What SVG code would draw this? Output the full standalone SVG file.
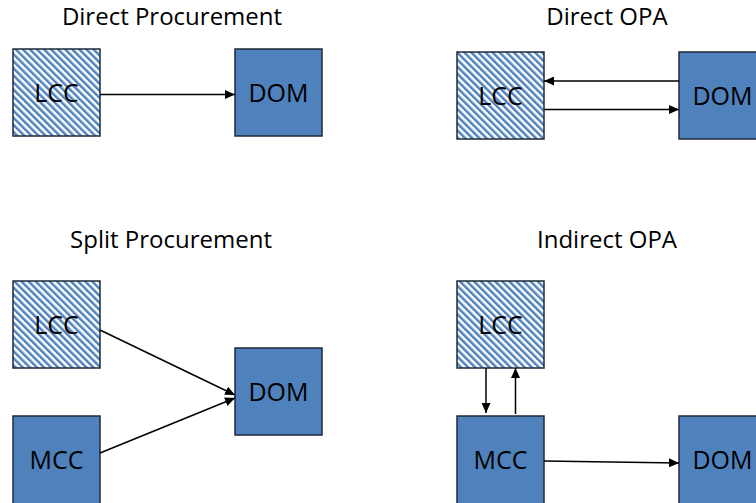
<svg xmlns="http://www.w3.org/2000/svg" width="756" height="503" viewBox="0 0 756 503">
  <defs>
    <pattern id="hatch" patternUnits="userSpaceOnUse" width="5" height="5" patternTransform="rotate(-45)">
      <rect x="0" y="0" width="5" height="5" fill="#ffffff"/>
      <rect x="0" y="0" width="2.5" height="5" fill="#4F81BD"/>
    </pattern>
    <marker id="arr" markerUnits="userSpaceOnUse" markerWidth="11" markerHeight="9" refX="10" refY="4.5" orient="auto">
      <path d="M0,0 L10,4.5 L0,9 z" fill="#000"/>
    </marker>
    <style>
      .title { font-family: "Open Sans", "Liberation Sans", sans-serif; font-size: 24px; fill: #000; text-anchor: middle; }
      .lbl { font-family: "Open Sans", "Liberation Sans", sans-serif; font-size: 25px; fill: #000; text-anchor: middle; }
      .solid { fill: #4F81BD; stroke: #1E2A38; stroke-width: 1.5; }
      .hatched { fill: url(#hatch); stroke: #1E2A38; stroke-width: 1.5; }
      .conn { stroke: #000; stroke-width: 1.5; fill: none; marker-end: url(#arr); }
    </style>
  </defs>
  <rect width="756" height="503" fill="#ffffff"/>

  <text class="title" x="172" y="25">Direct Procurement</text>
  <text class="title" x="607" y="25">Direct OPA</text>
  <text class="title" x="171" y="248">Split Procurement</text>
  <text class="title" x="607" y="248">Indirect OPA</text>

  <!-- Panel 1 -->
  <g id="p1-lcc"><rect class="hatched" x="13" y="49" width="87" height="87"/><text class="lbl" x="56.5" y="102">LCC</text></g>
  <g id="p1-dom"><rect class="solid" x="235" y="49" width="87" height="87"/><text class="lbl" x="278.5" y="102">DOM</text></g>

  <!-- Panel 2 -->
  <g id="p2-lcc"><rect class="hatched" x="457" y="52" width="87" height="87"/><text class="lbl" x="500.5" y="105">LCC</text></g>
  <g id="p2-dom"><rect class="solid" x="679" y="52" width="87" height="87"/><text class="lbl" x="722.5" y="105">DOM</text></g>

  <!-- Panel 3 -->
  <g id="p3-lcc"><rect class="hatched" x="13" y="281" width="87" height="87"/><text class="lbl" x="56.5" y="334">LCC</text></g>
  <g id="p3-mcc"><rect class="solid" x="13" y="416" width="87" height="92"/><text class="lbl" x="56.5" y="469">MCC</text></g>
  <g id="p3-dom"><rect class="solid" x="235" y="348" width="87" height="87"/><text class="lbl" x="278.5" y="401">DOM</text></g>

  <!-- Panel 4 -->
  <g id="p4-lcc"><rect class="hatched" x="457" y="281" width="87" height="87"/><text class="lbl" x="500.5" y="334">LCC</text></g>
  <g id="p4-mcc"><rect class="solid" x="457" y="416" width="87" height="92"/><text class="lbl" x="500.5" y="469">MCC</text></g>
  <g id="p4-dom"><rect class="solid" x="679" y="416" width="87" height="92"/><text class="lbl" x="722.5" y="469">DOM</text></g>

  <g id="connectors">
    <line class="conn" x1="100" y1="94.5" x2="235" y2="94.5"/>
    <line class="conn" x1="679" y1="81" x2="544" y2="81"/>
    <line class="conn" x1="544" y1="109.5" x2="679" y2="109.5"/>
    <line class="conn" x1="100" y1="330" x2="235" y2="395"/>
    <line class="conn" x1="100" y1="453" x2="235" y2="398"/>
    <line class="conn" x1="486" y1="368" x2="486" y2="413"/>
    <line class="conn" x1="515.5" y1="414" x2="515.5" y2="368"/>
    <line class="conn" x1="544" y1="461" x2="679" y2="463"/>
  </g>
</svg>
